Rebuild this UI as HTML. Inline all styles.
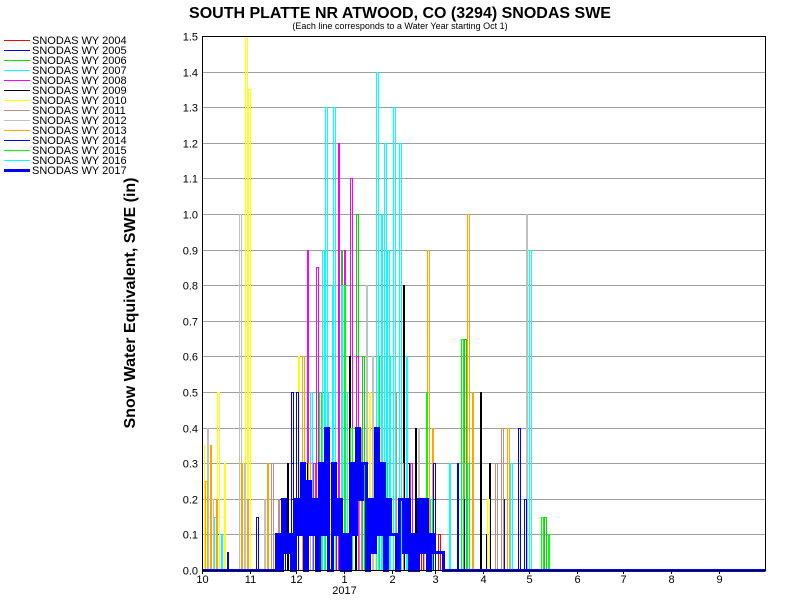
<!DOCTYPE html>
<html><head><meta charset="utf-8"><style>
body{margin:0;background:#fff;font-family:"Liberation Sans",sans-serif}
svg{display:block}
</style></head><body>
<svg id="c" width="800" height="600">
<text x="400" y="18" text-anchor="middle" font-size="16" font-weight="bold">SOUTH PLATTE NR ATWOOD, CO (3294) SNODAS SWE</text>
<text x="400" y="29" text-anchor="middle" font-size="9">(Each line corresponds to a Water Year starting Oct 1)</text>
<text transform="translate(135,303) rotate(-90)" text-anchor="middle" font-size="16" font-weight="bold">Snow Water Equivalent, SWE (in)</text>
<g id="grid" shape-rendering="crispEdges"></g><g id="series" shape-rendering="crispEdges"></g><g id="axes"></g><g id="legend"></g>
</svg>
<script>
const yTicks=[0,0.1,0.2,0.3,0.4,0.5,0.6,0.7,0.8,0.9,1.0,1.1,1.2,1.3,1.4,1.5];
const monthLabels=["10","11","12","1","2","3","4","5","6","7","8","9"];
const monthDays=[0,31,61,92,123,151,182,212,243,273,304,335];
const names=["SNODAS WY 2004","SNODAS WY 2005","SNODAS WY 2006","SNODAS WY 2007","SNODAS WY 2008","SNODAS WY 2009","SNODAS WY 2010","SNODAS WY 2011","SNODAS WY 2012","SNODAS WY 2013","SNODAS WY 2014","SNODAS WY 2015","SNODAS WY 2016","SNODAS WY 2017"];
const colors=["#ff0000","#0000ff","#00dd00","#00ffff","#ff00ff","#000000","#ffff00","#c09080","#c0c0c0","#ffa500","#0000ff","#00ff00","#00ffff","#0000ff"];
const d2004=[60,61,70,71,75,76,86,87,130,131,133,134,138,139,142,143,150,151,153,154,160,161,165,166];
const v2004=[0.1,0,0.2,0,0.1,0,0.3,0,0.4,0,0.3,0,0.3,0,0.2,0,0.2,0,0.1,0,0.1,0,0.15,0];
const d2005=[10,11,16,17,35,36,50,51,54,55,58,59,62,63,70,71,100,101,104,105,180,181,195,196];
const v2005=[0.1,0,0.05,0,0.15,0,0.2,0,0.2,0,0.5,0,0.3,0,0.2,0,0.3,0,0.2,0,0.3,0,0.2,0];
const d2006=[55,56,80,81,84,85,90,91,95,96,100,101,104,105,110,111,118,119,170,171,222,223];
const v2006=[0.1,0,0.4,0,0.3,0,0.9,0,0.6,0,1.0,0,0.6,0,0.6,0,0.2,0,0.65,0,0.15,0];
const d2007=[8,9,12,13,26,27,70,71,80,81,84,85,90,91,94,95,120,121,124,125,140,141,200,201];
const v2007=[0.15,0,0.1,0,0.1,0,0.5,0,1.3,0,0.8,0,0.8,0,0.5,0,0.9,0,0.3,0,0.2,0,0.3,0];
const d2008=[65,66,68,69,72,73,74,75,78,79,88,89,92,93,96,97,100,101,135,136,148,149,175,176];
const v2008=[0.2,0,0.9,0,0.3,0,0.85,0,0.5,0,1.2,0,0.9,0,1.1,0,0.6,0,0.3,0,0.1,0,0.5,0];
const d2009=[55,56,58,59,68,69,95,96,99,100,130,131,133,134,138,139,150,151,180,181,184,185,186,187];
const v2009=[0.3,0,0.2,0,0.3,0,0.6,0,0.4,0,0.8,0,0.3,0,0.4,0,0.2,0,0.5,0,0.1,0,0.3,0];
const d2010=[0,1,5,6,10,11,14,15,26,27,28,29,30,31,62,63,66,67,108,109,112,113,185,186];
const v2010=[0.35,0,0.2,0,0.5,0,0.3,0,0.3,0,1.5,0,1.35,0,0.6,0,0.3,0,0.5,0,0.3,0,0.2,0];
const d2011=[45,46,49,50,102,103,106,107,125,126,129,130,165,166,169,170,190,191,194,195,210,211];
const v2011=[0.3,0,0.2,0,0.4,0,0.3,0,0.5,0,0.3,0,0.2,0,0.3,0,0.3,0,0.4,0,0.1,0];
const d2012=[3,4,6,7,24,25,27,28,40,41,106,107,110,111,113,114,118,119,140,141,144,145,210,211];
const v2012=[0.4,0,0.2,0,1.0,0,0.3,0,0.2,0,0.8,0,0.6,0,1.3,0,0.5,0,0.4,0,0.2,0,1.0,0];
const d2013=[2,3,5,6,9,10,25,26,29,30,42,43,65,66,69,70,146,147,149,150,172,173,175,176,198,199];
const v2013=[0.25,0,0.35,0,0.2,0,0.3,0,0.2,0,0.3,0,0.6,0,0.3,0,0.9,0,0.4,0,1.0,0,0.5,0,0.4,0];
const d2014=[58,59,61,62,85,86,89,90,128,129,132,133,150,151,165,166,169,170,205,206,209,210];
const v2014=[0.3,0,0.5,0,0.4,0,0.2,0,0.7,0,0.3,0,0.3,0,0.3,0,0.2,0,0.4,0,0.2,0];
const d2015=[76,77,80,81,92,93,96,97,115,116,119,120,145,146,148,149,168,169,172,173,220,221,224,225];
const v2015=[0.5,0,0.3,0,0.8,0,0.4,0,0.6,0,0.3,0,0.5,0,0.2,0,0.65,0,0.3,0,0.15,0,0.1,0];
const d2016=[78,79,81,82,85,86,113,114,116,117,118,119,121,122,124,125,128,129,132,133,160,161,212,213];
const v2016=[0.9,0,0.5,0,1.3,0,1.4,0,1.0,0,1.2,0,0.6,0,1.3,0,1.2,0,0.6,0,0.3,0,0.9,0];
const d2017=[48,50,52,54,56,58,60,62,64,66,68,70,72,74,76,78,80,82,84,86,88,90,92,94,96,98,100,102,104,106,108,110,112,114,116,118,120,122,124,126,128,130,132,134,136,138,140,142,144,146,148,150,152,156];
const v2017=[0.1,0,0.2,0.05,0.1,0,0.2,0.1,0.3,0,0.25,0.1,0.2,0,0.3,0.1,0.4,0,0.3,0.1,0.2,0,0.1,0,0.3,0.1,0.4,0.2,0.3,0,0.2,0.05,0.4,0.1,0.3,0,0.2,0.1,0.1,0,0.2,0.05,0.2,0,0.1,0,0.2,0.05,0.2,0,0.1,0.05,0.05,0];
const allD=[d2004,d2005,d2006,d2007,d2008,d2009,d2010,d2011,d2012,d2013,d2014,d2015,d2016,d2017];
const allV=[v2004,v2005,v2006,v2007,v2008,v2009,v2010,v2011,v2012,v2013,v2014,v2015,v2016,v2017];
const L=202,R=765,T=36,B=570,NS="http://www.w3.org/2000/svg";
const x=d=>Math.round(L+d*(R-L)/365)+0.5, y=v=>Math.round(B-v*(B-T)/1.5)+0.5;
function mk(t,a,p){const e=document.createElementNS(NS,t);for(const k in a)e.setAttribute(k,a[k]);p.appendChild(e);return e;}
const grid=document.getElementById('grid'),axes=document.getElementById('axes'),ser=document.getElementById('series'),leg=document.getElementById('legend');
yTicks.forEach(v=>{
 const g=mk('line',{x1:L,x2:R,y1:y(v),y2:y(v),stroke:'#a0a0a0'},grid);
 
 
 const t=mk('text',{x:L-4,y:y(v)+4,'text-anchor':'end','font-size':11},axes);
 t.textContent=v.toFixed(1);
 
 
});
monthDays.forEach((d,i)=>{
 const tk=mk('line',{x1:x(d),x2:x(d),y1:B,y2:B+4,stroke:'#000'},axes);
 
 
 const t=mk('text',{x:x(d),y:B+13,'text-anchor':'middle','font-size':11},axes);
 t.textContent=monthLabels[i];
 
 
});
const yr=mk('text',{x:x(92),y:B+24,'text-anchor':'middle','font-size':11},axes);
yr.textContent='2017';


const fr=mk('rect',{x:L+0.5,y:T+0.5,width:R-L,height:B-T,fill:'none',stroke:'#000','shape-rendering':'crispEdges'},axes);


allD.forEach((ds,s)=>{
 const vs=allV[s];let p=`M${x(0)},${y(0)}`,prev=0;
 ds.forEach((d,i)=>{p+=` L${x(d)},${y(prev)} L${x(d)},${y(vs[i])}`;prev=vs[i];});
 p+=` L${x(365)},${y(prev)}`;
 const e=mk('path',{d:p,fill:'none',stroke:colors[s],'stroke-width':s==13?3:1},ser);
 
 
 const ly=40+s*10;
 const ll=mk('line',{x1:4,x2:30,y1:ly+0.5,y2:ly+0.5,stroke:colors[s],'stroke-width':s==13?3:1,'shape-rendering':'crispEdges'},leg);
 
 
 const lt=mk('text',{x:32,y:ly+4,'font-size':11},leg);
 lt.textContent=names[s];
 
 
});
</script>
</body></html>
